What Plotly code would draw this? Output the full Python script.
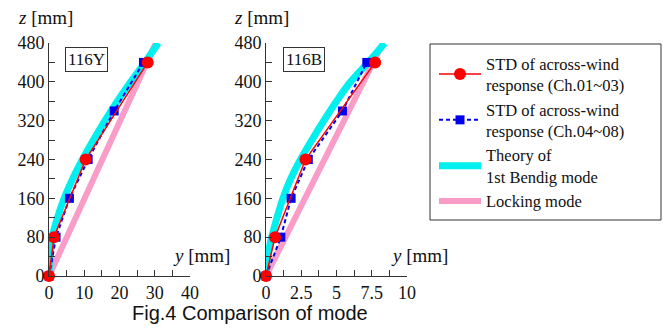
import plotly.graph_objects as go

# ---------------- data ----------------
# heights [mm]
z_ch0103 = [0, 80, 240, 440]
z_ch0408 = [0, 80, 160, 240, 340, 440]
z_theory = [0, 40, 80, 120, 160, 200, 240, 280, 320, 360, 400, 440, 480]
z_lock = [0, 480]

# 116Y  (y [mm])
y116Y_ch0103 = [0, 1.4, 10.4, 28.0]
y116Y_ch0408 = [0, 2.0, 5.8, 11.1, 18.5, 26.8]
y116Y_theory = [0, 0.3, 0.9, 2.4, 4.3, 6.7, 9.5, 12.6, 15.9, 19.4, 23.2, 27.2, 31.0]
y116Y_lock = [0, 30.3]

# 116B  (y [mm])
y116B_ch0103 = [0, 0.64, 2.8, 7.74]
y116B_ch0408 = [0, 1.05, 1.78, 3.0, 5.42, 7.15]
y116B_theory = [0, 0.12, 0.4, 0.78, 1.2, 1.75, 2.45, 3.25, 4.1, 5.0, 6.0, 7.25, 8.42]
y116B_lock = [0, 8.3]

panel_labels = ["116Y", "116B"]
names = ["STD of across-wind<br>response (Ch.01~03)",
         "STD of across-wind<br>response (Ch.04~08)",
         "Theory of<br>1st Bendig mode",
         "Locking mode"]
title_text = "Fig.4 Comparison of mode"

# ---------------- styles ----------------
RED = "#ff0000"
BLUE = "#0000f0"
CYAN = "#00f0f0"
PINK = "#f99cc8"
SERIF = "Liberation Serif, Times New Roman, serif"
W, H = 672, 329

def px(x):
    return x / W

def py(y):
    return 1 - y / H

fig = go.Figure()

panels = [
    ("x", "y", y116Y_ch0103, y116Y_ch0408, y116Y_theory, y116Y_lock, True),
    ("x2", "y2", y116B_ch0103, y116B_ch0408, y116B_theory, y116B_lock, False),
]
for xa, ya, yr, yb, yt, yl, show in panels:
    fig.add_trace(go.Scatter(x=yl, y=z_lock, mode="lines", xaxis=xa, yaxis=ya,
                             line=dict(color=PINK, width=6), name=names[3],
                             legendrank=4, showlegend=show, cliponaxis=False))
    fig.add_trace(go.Scatter(x=yt, y=z_theory, mode="lines", xaxis=xa, yaxis=ya,
                             line=dict(color=CYAN, width=7, shape="spline"), name=names[2],
                             legendrank=3, showlegend=show, cliponaxis=False))
    fig.add_trace(go.Scatter(x=yb, y=z_ch0408, mode="lines+markers", xaxis=xa, yaxis=ya,
                             line=dict(color=BLUE, width=2, dash="4px,3px"),
                             marker=dict(symbol="square", size=9, color=BLUE),
                             name=names[1], legendrank=2, showlegend=show, cliponaxis=False))
    fig.add_trace(go.Scatter(x=yr, y=z_ch0103, mode="lines+markers", xaxis=xa, yaxis=ya,
                             line=dict(color=RED, width=1.5),
                             marker=dict(symbol="circle", size=12, color=RED),
                             name=names[0], legendrank=1, showlegend=show, cliponaxis=False))

axis_common = dict(showline=True, linecolor="#333", linewidth=1, showgrid=False,
                   zeroline=False, ticks="inside", ticklen=6, tickcolor="#333",
                   automargin=False,
                   tickfont=dict(family=SERIF, size=18, color="#111"))

ydom = [py(276), py(43)]
fig.update_layout(
    width=W, height=H, margin=dict(l=0, r=0, t=0, b=0),
    paper_bgcolor="white", plot_bgcolor="white",
    xaxis=dict(domain=[px(49), px(190)], range=[0, 40], dtick=10, anchor="y",
               minor=dict(dtick=5, ticks="inside", ticklen=6, tickcolor="#333"), **axis_common),
    yaxis=dict(domain=ydom, range=[0, 480], dtick=80, anchor="x",
               minor=dict(dtick=40, ticks="inside", ticklen=6, tickcolor="#333"), **axis_common),
    xaxis2=dict(domain=[px(266), px(407)], range=[0, 10], dtick=2.5, anchor="y2",
                minor=dict(dtick=1.25, ticks="inside", ticklen=6, tickcolor="#333"), **axis_common),
    yaxis2=dict(domain=ydom, range=[0, 480], dtick=80, anchor="x2",
                minor=dict(dtick=40, ticks="inside", ticklen=6, tickcolor="#333"), **axis_common),
    legend=dict(x=px(434), y=py(46), xanchor="left", yanchor="top",
                borderwidth=0, bgcolor="rgba(0,0,0,0)",
                font=dict(family=SERIF, size=16.5, color="#111"),
                itemwidth=42, traceorder="normal", valign="middle"),
    showlegend=True,
    shapes=[dict(type="rect", xref="paper", yref="paper",
                 x0=px(430), x1=px(661), y0=py(220), y1=py(44),
                 line=dict(color="#333", width=1), fillcolor="rgba(0,0,0,0)", layer="below")],
)

ann_font = dict(family=SERIF, size=19, color="#111")
annotations = [
    dict(text="<i>z</i> [mm]", x=px(16), y=py(18), xanchor="left", yanchor="middle"),
    dict(text="<i>z</i> [mm]", x=px(232), y=py(18), xanchor="left", yanchor="middle"),
    dict(text="<i>y</i> [mm]", x=px(171), y=py(255), xanchor="left", yanchor="middle"),
    dict(text="<i>y</i> [mm]", x=px(389), y=py(255), xanchor="left", yanchor="middle"),
]
for a in annotations:
    fig.add_annotation(xref="paper", yref="paper", showarrow=False, font=ann_font, **a)

for lbl, cx in zip(panel_labels, [86.5, 304]):
    fig.add_annotation(xref="paper", yref="paper", x=px(cx), y=py(59.5), text=lbl,
                       showarrow=False, xanchor="center", yanchor="middle",
                       font=dict(family=SERIF, size=17, color="#111"),
                       bordercolor="#333", borderwidth=1, borderpad=2, bgcolor="white")

fig.add_annotation(xref="paper", yref="paper", x=px(250), y=py(313), text=title_text,
                   showarrow=False, xanchor="center", yanchor="middle",
                   font=dict(family="Liberation Sans, Arial, sans-serif", size=20, color="#111"))

fig.write_html("out.html", config={"displayModeBar": False},
               post_script="document.body.style.margin='0px';")
